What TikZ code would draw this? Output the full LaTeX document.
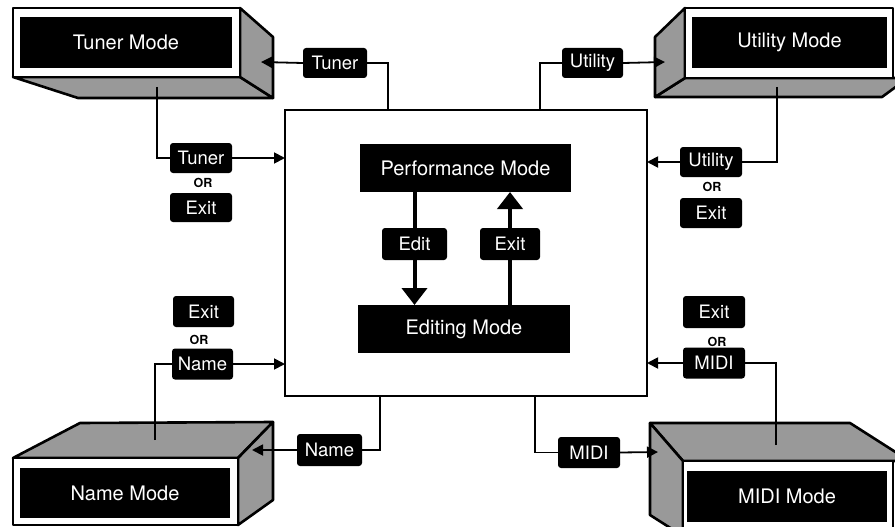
\documentclass[tikz,border=0pt]{standalone}
\usepackage{fontspec}
\setmainfont{TeX Gyre Heros}
\usetikzlibrary{arrows.meta}
\pgfdeclarelayer{keys}
\pgfsetlayers{main,keys}

\tikzset{
  conn/.style={line width=1.8pt},
  arr/.style={conn,-{Triangle[length=11pt,width=11pt]}},
  bigarr/.style={line width=4pt,-{Triangle[length=17pt,width=25pt]}},
  keycap/.style={fill=black,rounded corners=3pt,text=white,
    font=\fontsize{18.5}{20}\selectfont,minimum width=62pt,minimum height=30pt,inner sep=0pt},
  orword/.style={font=\fontsize{12.5}{13}\selectfont\bfseries,inner sep=0pt},
  shade/.style={draw,line width=2.6pt,line join=round,fill=black!40},
  frontface/.style={draw,line width=2.6pt,line join=round,fill=white},
  panel/.style={fill=black,text=white,font=\fontsize{20}{22}\selectfont,inner sep=0pt,outer sep=0pt},
}

\begin{document}
\begin{tikzpicture}[x=1pt,y=-1pt]
\useasboundingbox (0,0) rectangle (895,527);

% central box with the two inner modes
\node[draw,line width=2.2pt,minimum width=362pt,minimum height=286pt,inner sep=0pt,outer sep=0pt] (cbox) at (466,253) {};
\node[panel,minimum width=211pt,minimum height=48pt] (perf) at (465.5,168) {Performance Mode};
\node[panel,minimum width=212pt,minimum height=48pt] (editing) at (464,329) {Editing Mode};

% Tuner Mode slab (top left)
\draw[shade] (13,77) -- (240,77) -- (273,98) -- (78,98) -- cycle;
\draw[shade] (240,8) -- (273,37) -- (273,98) -- (240,77) -- cycle;
\draw[frontface] (13,8) rectangle (240,77);
\node[panel,minimum width=212pt,minimum height=51pt] (tuner) at (126,42.5) {Tuner Mode};

% Utility Mode slab (top right)
\draw[shade] (685,78) -- (897,78) -- (897,86) -- (882,97) -- (655,97) -- cycle;
\draw[shade] (685,8) -- (655,37) -- (655,97) -- (685,78) -- cycle;
\draw[frontface] (685,8) rectangle (893,78);
\node[panel,minimum width=195pt,minimum height=51pt] (utility) at (789.5,42.5) {Utility Mode};

% Name Mode slab (bottom left)
\draw[shade] (13,458) -- (80,423) -- (273,422) -- (238,458) -- cycle;
\draw[shade] (238,458) -- (273,422) -- (273,500) -- (238,525) -- cycle;
\draw[frontface] (13,458) rectangle (238,525);
\node[panel,minimum width=210pt,minimum height=50pt] (name) at (125,493) {Name Mode};

% MIDI Mode slab (bottom right)
\draw[shade] (650,423) -- (850,423) -- (897,453) -- (897,461) -- (683,461) -- cycle;
\draw[shade] (650,423) -- (683,461) -- (683,529) -- (672,529) -- (650,515) -- cycle;
\draw[frontface] (683,461) rectangle (893,529);
\node[panel,minimum width=200pt,minimum height=51pt] (midi) at (787,496.5) {MIDI Mode};

% key labels
\begin{pgfonlayer}{keys}
  \node[keycap,minimum width=64pt] (tunerT) at (335,63) {Tuner};
  \node[keycap] (tunerL) at (201,158) {Tuner};
  \node[orword] (orTL) at (203,183) {OR};
  \node[keycap,minimum height=29pt] (exitTL) at (201,207.5) {Exit};

  \node[keycap,minimum width=61pt,minimum height=31pt] (exitBL) at (203.5,311.5) {Exit};
  \node[orword] (orBL) at (199,340) {OR};
  \node[keycap,minimum width=61pt,minimum height=31pt] (nameL) at (202.5,364) {Name};
  \node[keycap,minimum width=65pt,minimum height=32pt] (nameB) at (329.5,450) {Name};

  \node[keycap,minimum width=61pt] (utilT) at (592.5,63) {Utility};
  \node[keycap] (utilR) at (711,162) {Utility};
  \node[orword] (orTR) at (712,187) {OR};
  \node[keycap] (exitTR) at (711,213) {Exit};

  \node[keycap,minimum height=32pt] (exitBR) at (714,312) {Exit};
  \node[orword] (orBR) at (717,342) {OR};
  \node[keycap,minimum height=31pt] (midiR) at (714,363) {MIDI};
  \node[keycap,minimum height=31pt] (midiB) at (589,452.5) {MIDI};

  \node[keycap,minimum width=65pt,minimum height=32pt] (edit) at (414.5,244) {Edit};
  \node[keycap,minimum width=60pt,minimum height=32pt] (exitC) at (510,244) {Exit};
\end{pgfonlayer}

% junctions on the central box and on the slabs
\coordinate (jTT) at (388,110);
\coordinate (jUT) at (540,110);
\coordinate (jNB) at (380,396);
\coordinate (jMB) at (535,396);
\coordinate (sTL) at (157,87);
\coordinate (sNL) at (155,440);
\coordinate (sUR) at (777,87);
\coordinate (sMR) at (776,445);
\coordinate (tipT) at (261,62);
\coordinate (tipU) at (665,62);
\coordinate (tipN) at (252,450);
\coordinate (tipM) at (658,452);

% connectors
\draw[conn] (jTT) |- (tunerT.east);
\draw[arr] (tunerT.west) -- (tipT);
\draw[conn] (sTL) |- (tunerL.west);
\draw[arr] (tunerL.east) -- (tunerL.east -| cbox.west);

\draw[conn] (sNL) |- (nameL.west);
\draw[arr] (nameL.east) -- (nameL.east -| cbox.west);
\draw[conn] (jNB) |- (nameB.east);
\draw[arr] (nameB.west) -- (tipN);

\draw[conn] (jUT) |- (utilT.west);
\draw[arr] (utilT.east) -- (tipU);
\draw[conn] (sUR) |- (utilR.east);
\draw[arr] (utilR.west) -- (utilR.west -| cbox.east);

\draw[conn] (sMR) |- (midiR.east);
\draw[arr] (midiR.west) -- (midiR.west -| cbox.east);
\draw[conn] (jMB) |- (midiB.west);
\draw[arr] (midiB.east) -- (tipM);

% transitions between the inner modes
\draw[bigarr] (perf.south -| edit) -- (editing.north -| edit);
\draw[bigarr] (editing.north -| exitC) -- (perf.south -| exitC);
\end{tikzpicture}
\end{document}
